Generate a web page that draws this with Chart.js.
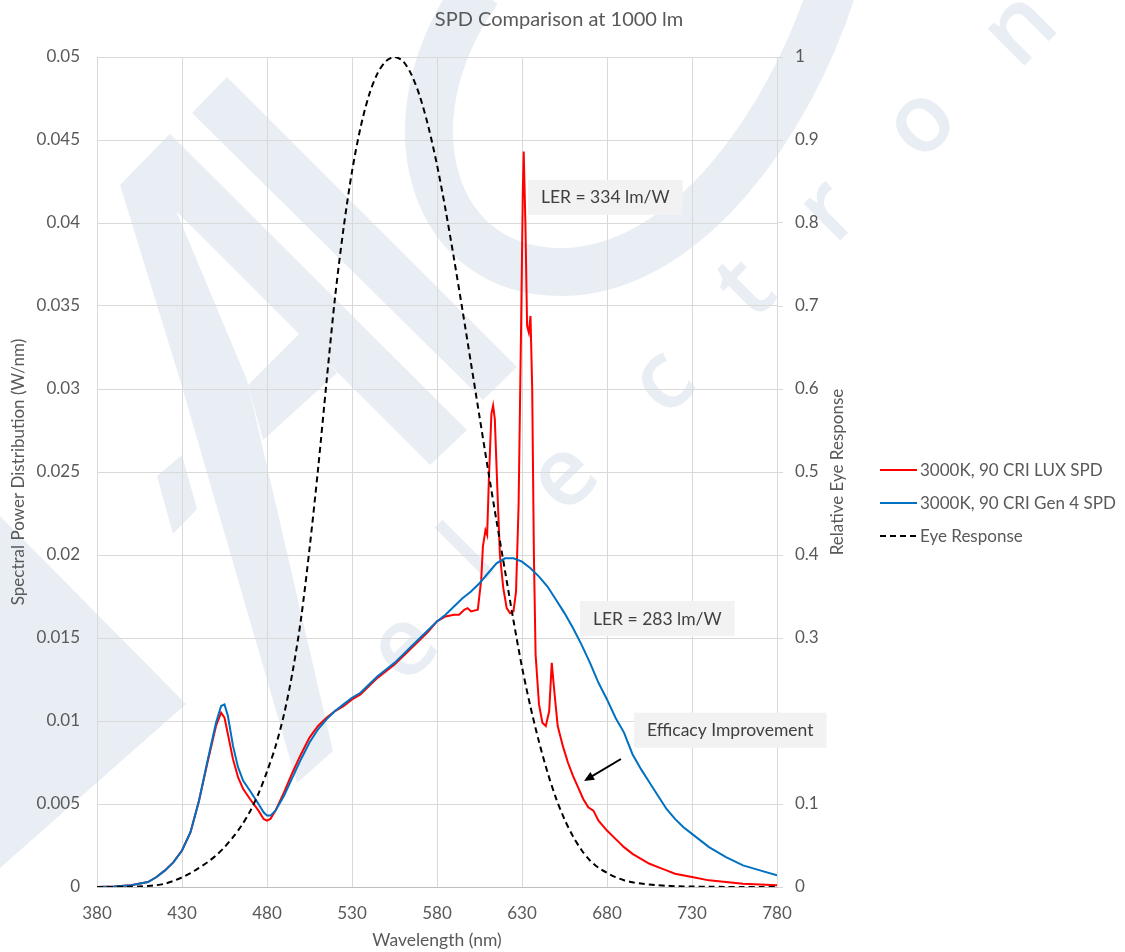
<!DOCTYPE html>
<html>
<head>
<meta charset="utf-8">
<script src="https://cdn.jsdelivr.net/npm/chart.js@4"></script>
<style>
html, body { margin: 0; padding: 0; background: #fff; }
#wrap { width: 1125px; height: 952px; }
</style>
</head>
<body>
<div id="wrap"><canvas id="spd" width="1125" height="952"></canvas></div>
<script>
// wavelengths (nm) and spectral power (W/nm)
const luxWavelengths = [380, 390, 400, 410, 415, 420, 425, 430, 435, 440, 445, 450, 453, 455, 457, 460, 463, 466, 470, 475, 478, 480, 482, 485, 490, 495, 500, 505, 510, 515, 520, 525, 530, 535, 540, 545, 550, 555, 560, 565, 570, 575, 580, 585, 590, 593, 596, 598, 600, 604, 606, 607, 608.5, 609.5, 610.5, 612, 613, 614, 615.5, 617, 619, 621, 623, 625, 626.5, 628, 629.5, 630.5, 631, 632, 633, 634, 635, 636, 637, 638, 640, 642, 644, 646, 647.5, 649, 651, 654, 657, 660, 663, 666, 669, 672, 675, 680, 685, 690, 695, 700, 705, 710, 715, 720, 730, 740, 750, 760, 770, 780];
const luxSpd = [0, 0.00003, 0.0001, 0.0003, 0.0006, 0.001, 0.0015, 0.0022, 0.0033, 0.0052, 0.0075, 0.0097, 0.0105, 0.0102, 0.0092, 0.0077, 0.0066, 0.0059, 0.0053, 0.0046, 0.0041, 0.0040, 0.0041, 0.0046, 0.0057, 0.0069, 0.0080, 0.0090, 0.0097, 0.0102, 0.0106, 0.0109, 0.0113, 0.0116, 0.0121, 0.0126, 0.0130, 0.0134, 0.0139, 0.0144, 0.0149, 0.0154, 0.0160, 0.0163, 0.0164, 0.0164, 0.0167, 0.0168, 0.0166, 0.0167, 0.0185, 0.0205, 0.0215, 0.0212, 0.0245, 0.0285, 0.0290, 0.0282, 0.0240, 0.0200, 0.0180, 0.0168, 0.0165, 0.0166, 0.0178, 0.0230, 0.0340, 0.0420, 0.0443, 0.0400, 0.0338, 0.0334, 0.0344, 0.0300, 0.0200, 0.0140, 0.0110, 0.0099, 0.0097, 0.0106, 0.0135, 0.0118, 0.0097, 0.0085, 0.0075, 0.0067, 0.0060, 0.0053, 0.0048, 0.0046, 0.0040, 0.0034, 0.0029, 0.0024, 0.0020, 0.0017, 0.0014, 0.0012, 0.0010, 0.0008, 0.0006, 0.0004, 0.0003, 0.0002, 0.00015, 0.0001];

const gen4Wavelengths = [380, 390, 400, 410, 415, 420, 425, 430, 435, 440, 445, 450, 453, 455, 457, 460, 463, 466, 470, 475, 478, 480, 482, 485, 490, 495, 500, 505, 510, 515, 520, 525, 530, 535, 540, 545, 550, 555, 560, 565, 570, 575, 580, 585, 590, 595, 600, 605, 610, 615, 620, 625, 630, 635, 640, 645, 650, 655, 660, 665, 670, 675, 680, 685, 690, 695, 700, 705, 710, 715, 720, 725, 730, 740, 750, 760, 770, 780];
const gen4Spd = [0, 0.00003, 0.0001, 0.0003, 0.0006, 0.001, 0.0015, 0.0022, 0.0033, 0.0052, 0.0076, 0.0099, 0.0109, 0.0110, 0.0103, 0.0085, 0.0072, 0.0064, 0.0058, 0.0050, 0.0045, 0.0043, 0.0043, 0.0046, 0.0055, 0.0066, 0.0077, 0.0087, 0.0095, 0.0101, 0.0106, 0.0110, 0.0114, 0.0117, 0.0122, 0.0127, 0.0131, 0.0135, 0.0140, 0.0145, 0.0150, 0.0155, 0.0160, 0.0164, 0.0169, 0.0174, 0.0178, 0.0183, 0.0189, 0.0195, 0.0198, 0.0198, 0.0196, 0.0192, 0.0187, 0.0181, 0.0173, 0.0165, 0.0156, 0.0146, 0.0135, 0.0123, 0.0113, 0.0102, 0.0093, 0.0080, 0.0071, 0.0063, 0.0055, 0.0047, 0.0041, 0.0036, 0.0032, 0.0024, 0.0018, 0.0013, 0.0010, 0.0007];

// relative eye response (right axis)
const eyeWavelengths = [380, 385, 390, 395, 400, 405, 410, 415, 420, 425, 430, 435, 440, 445, 450, 455, 460, 465, 470, 475, 480, 485, 490, 495, 500, 505, 510, 515, 520, 525, 530, 535, 540, 545, 550, 555, 560, 565, 570, 575, 580, 585, 590, 595, 600, 605, 610, 615, 620, 625, 630, 635, 640, 645, 650, 655, 660, 665, 670, 675, 680, 685, 690, 695, 700, 705, 710, 715, 720, 725, 730, 740, 750, 760, 770, 780];
const eyeResponse = [0.00004, 0.00006, 0.00012, 0.00022, 0.0004, 0.00064, 0.0012, 0.0022, 0.004, 0.0073, 0.0116, 0.0168, 0.023, 0.0298, 0.038, 0.048, 0.06, 0.0739, 0.091, 0.1126, 0.139, 0.1693, 0.208, 0.2586, 0.323, 0.4073, 0.503, 0.6082, 0.71, 0.7932, 0.862, 0.9149, 0.954, 0.9803, 0.995, 1.0, 0.995, 0.9786, 0.952, 0.9154, 0.87, 0.8163, 0.757, 0.6949, 0.631, 0.5668, 0.503, 0.4412, 0.381, 0.321, 0.265, 0.217, 0.175, 0.1382, 0.107, 0.0816, 0.061, 0.0446, 0.032, 0.0232, 0.017, 0.0119, 0.0082, 0.0057, 0.0041, 0.0029, 0.0021, 0.0015, 0.001, 0.0007, 0.0005, 0.00025, 0.00012, 0.00006, 0.00003, 0.00002];

const seriesLabels = ['3000K, 90 CRI LUX SPD', '3000K, 90 CRI Gen 4 SPD', 'Eye Response'];
const xTicks = [380, 430, 480, 530, 580, 630, 680, 730, 780];
const leftTicks = [0, 0.005, 0.01, 0.015, 0.02, 0.025, 0.03, 0.035, 0.04, 0.045, 0.05];
const rightTicks = [0, 0.1, 0.2, 0.3, 0.4, 0.5, 0.6, 0.7, 0.8, 0.9, 1];

const FONT = 'Lato';
const TEXT_GREY = '#595959';
const GRID_GREY = '#d9d9d9';
const WATERMARK = '#e9eef5';

const toPoints = (xs, ys) => xs.map((x, i) => ({ x: x, y: ys[i] }));

// callouts, anchored by their top-left corner in data units
const notes = [
    { text: 'LER = 334 lm/W', x: 633.5, y: 0.0426 },
    { text: 'LER = 283 lm/W', x: 664.1, y: 0.01723 },
    { text: 'Efficacy Improvement', x: 695.9, y: 0.0105 }
];
const arrow = { from: { x: 688.2, y: 0.00771 }, to: { x: 666.5, y: 0.00639 } };

const drawWatermark = (ctx) => {
    ctx.save();
    ctx.fillStyle = WATERMARK;
    ctx.strokeStyle = WATERMARK;
    const polys = [
        [[120, 185], [170, 134], [177, 213], [247, 380], [333, 751], [297, 783], [180, 380]],
        [[170, 134], [467, 430], [430, 465], [135, 170]],
        [[227, 77], [517, 367], [483, 400], [192, 113]],
        [[300, 333], [337, 373], [263, 440], [248, 385]],
        [[157, 476], [182, 455], [197, 509], [173, 534]],
        [[0, 516], [186, 704], [0, 868]]
    ];
    polys.forEach(p => {
        ctx.beginPath();
        ctx.moveTo(p[0][0], p[0][1]);
        p.slice(1).forEach(pt => ctx.lineTo(pt[0], pt[1]));
        ctx.closePath();
        ctx.fill();
    });
    // the big "C"
    ctx.lineWidth = 48;
    ctx.beginPath();
    ctx.moveTo(478, -10);
    ctx.bezierCurveTo(385, 120, 430, 275, 565, 272);
    ctx.bezierCurveTo(690, 268, 790, 120, 832, -10);
    ctx.stroke();
    // "electron" letters along the diagonal
    const letters = [['e', 405, 648], ['l', 471, 556], ['e', 565, 478], ['c', 664, 383], ['t', 747, 290], ['r', 830, 212], ['o', 922, 124], ['n', 1021, 30]];
    ctx.font = '600 96px "Open Sans"';
    ctx.textAlign = 'center';
    ctx.textBaseline = 'middle';
    letters.forEach(([ch, x, y]) => {
        ctx.save();
        ctx.translate(x, y);
        ctx.rotate(-Math.PI / 4);
        ctx.fillText(ch, 0, 0);
        ctx.restore();
    });
    ctx.restore();
};

const decorPlugin = {
    id: 'decor',
    beforeDraw(chart) {
        const ctx = chart.ctx;
        ctx.save();
        ctx.fillStyle = '#fff';
        ctx.fillRect(0, 0, chart.width, chart.height);
        ctx.restore();
        drawWatermark(ctx);
    },
    afterDraw(chart) {
        const ctx = chart.ctx;
        const xs = chart.scales.x, ys = chart.scales.y;
        const area = chart.chartArea;
        ctx.save();

        // title
        ctx.font = '20px ' + FONT;
        ctx.fillStyle = TEXT_GREY;
        ctx.textAlign = 'center';
        ctx.textBaseline = 'middle';
        ctx.fillText('SPD Comparison at 1000 lm', 559, 20);

        // right axis title, reading bottom to top
        ctx.save();
        ctx.translate(838, (area.top + area.bottom) / 2);
        ctx.rotate(-Math.PI / 2);
        ctx.font = '17px ' + FONT;
        ctx.fillText('Relative Eye Response', 0, 0);
        ctx.restore();

        // callout boxes
        ctx.font = '17.5px ' + FONT;
        ctx.textAlign = 'left';
        notes.forEach(n => {
            const left = xs.getPixelForValue(n.x);
            const top = ys.getPixelForValue(n.y);
            const w = ctx.measureText(n.text).width + 26;
            ctx.fillStyle = '#f2f2f2';
            ctx.fillRect(left, top, w, 35);
            ctx.fillStyle = '#404040';
            ctx.fillText(n.text, left + 13, top + 18);
        });

        // arrow
        const x1 = xs.getPixelForValue(arrow.from.x), y1 = ys.getPixelForValue(arrow.from.y);
        const x2 = xs.getPixelForValue(arrow.to.x), y2 = ys.getPixelForValue(arrow.to.y);
        const ang = Math.atan2(y2 - y1, x2 - x1);
        ctx.strokeStyle = '#000';
        ctx.fillStyle = '#000';
        ctx.lineWidth = 2;
        ctx.beginPath();
        ctx.moveTo(x1, y1);
        ctx.lineTo(x2 - 6 * Math.cos(ang), y2 - 6 * Math.sin(ang));
        ctx.stroke();
        ctx.beginPath();
        ctx.moveTo(x2, y2);
        ctx.lineTo(x2 - 10 * Math.cos(ang) + 4.5 * Math.sin(ang), y2 - 10 * Math.sin(ang) - 4.5 * Math.cos(ang));
        ctx.lineTo(x2 - 10 * Math.cos(ang) - 4.5 * Math.sin(ang), y2 - 10 * Math.sin(ang) + 4.5 * Math.cos(ang));
        ctx.closePath();
        ctx.fill();

        // legend
        ctx.font = '17px ' + FONT;
        ctx.textBaseline = 'middle';
        chart.data.datasets.forEach((ds, i) => {
            const y = 470 + i * 33;
            ctx.strokeStyle = ds.borderColor;
            ctx.lineWidth = 2;
            ctx.setLineDash(ds.borderDash || []);
            ctx.beginPath();
            ctx.moveTo(880, y);
            ctx.lineTo(917, y);
            ctx.stroke();
            ctx.setLineDash([]);
            ctx.fillStyle = TEXT_GREY;
            ctx.fillText(ds.label, 920, y + 1);
        });
        ctx.restore();
    }
};

const ctx = document.getElementById('spd').getContext('2d');
const spdChart = new Chart(ctx, {
    type: 'line',
    data: {
        datasets: [
            {
                label: seriesLabels[0],
                data: toPoints(luxWavelengths, luxSpd),
                borderColor: '#ff0000',
                borderWidth: 2,
                pointRadius: 0,
                tension: 0,
                yAxisID: 'y',
                order: 2
            },
            {
                label: seriesLabels[1],
                data: toPoints(gen4Wavelengths, gen4Spd),
                borderColor: '#0070c0',
                borderWidth: 2,
                pointRadius: 0,
                tension: 0,
                yAxisID: 'y',
                order: 1
            },
            {
                label: seriesLabels[2],
                data: toPoints(eyeWavelengths, eyeResponse),
                borderColor: '#000000',
                borderWidth: 2,
                borderDash: [6, 4],
                pointRadius: 0,
                tension: 0.3,
                yAxisID: 'y2',
                order: 0
            }
        ]
    },
    options: {
        responsive: false,
        animation: false,
        layout: { padding: { top: 57, right: 300, bottom: 0, left: 0 } },
        plugins: {
            legend: { display: false },
            title: { display: false },
            tooltip: { enabled: false }
        },
        scales: {
            x: {
                type: 'linear',
                min: 380,
                max: 780,
                afterBuildTicks: (s) => { s.ticks = xTicks.map(v => ({ value: v })); },
                afterFit: (s) => { s.height = 65; },
                grid: { color: GRID_GREY, drawTicks: false },
                border: { color: '#bfbfbf' },
                ticks: { color: TEXT_GREY, font: { family: FONT, size: 17 }, padding: 16, maxRotation: 0 },
                title: { display: true, text: 'Wavelength (nm)', color: TEXT_GREY, font: { family: FONT, size: 17.5 }, padding: { top: 0, bottom: 1 } }
            },
            y: {
                position: 'left',
                min: 0,
                max: 0.05,
                afterBuildTicks: (s) => { s.ticks = leftTicks.map(v => ({ value: v })); },
                afterFit: (s) => { s.width = 97; },
                grid: { color: GRID_GREY, drawTicks: false },
                border: { display: false },
                ticks: { color: TEXT_GREY, font: { family: FONT, size: 17 }, padding: 17, callback: (v) => String(v) },
                title: { display: true, text: 'Spectral Power Distribution (W/nm)', color: TEXT_GREY, font: { family: FONT, size: 17 }, padding: { top: 8, bottom: 0 } }
            },
            y2: {
                position: 'right',
                min: 0,
                max: 1,
                afterBuildTicks: (s) => { s.ticks = rightTicks.map(v => ({ value: v })); },
                afterFit: (s) => { s.width = 48; },
                grid: { drawOnChartArea: false, drawTicks: true, tickLength: 6, color: GRID_GREY },
                border: { display: false },
                ticks: { color: TEXT_GREY, font: { family: FONT, size: 17 }, padding: 12, callback: (v) => String(v) },
                title: { display: false }
            }
        }
    },
    plugins: [decorPlugin]
});
</script>
</body>
</html>
